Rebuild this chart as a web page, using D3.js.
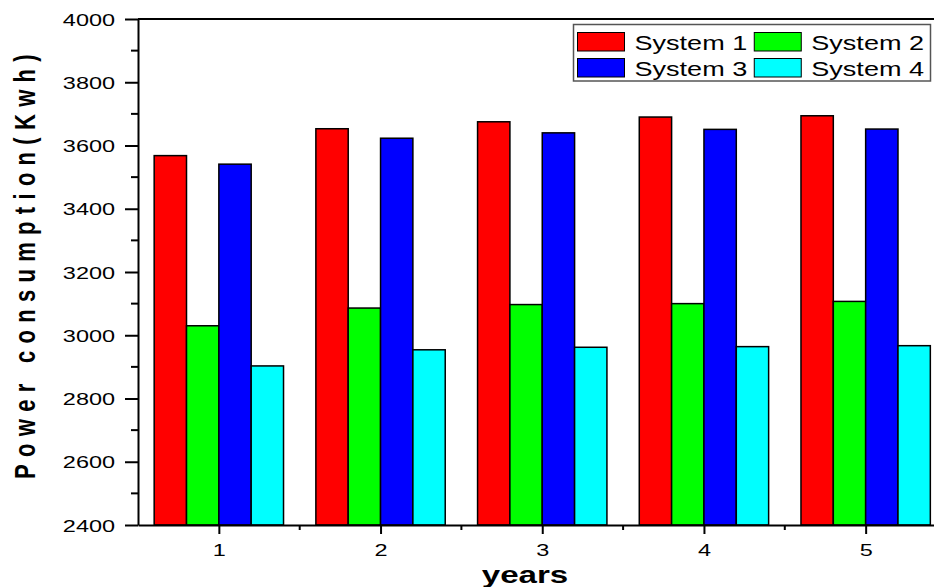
<!DOCTYPE html>
<html>
<head>
<meta charset="utf-8">
<script src="https://cdn.jsdelivr.net/npm/d3@7"></script>
<style>
  html, body { margin: 0; padding: 0; background: #fff; }
  svg { display: block; }
  text { font-family: "Liberation Sans", Arial, sans-serif; fill: #000; }
</style>
</head>
<body>
<svg id="chart" width="934" height="587"></svg>
<script>
// Yearly power consumption for four systems (kWh)
const years = [1, 2, 3, 4, 5];
const seriesNames = ["System 1", "System 2", "System 3", "System 4"];
const seriesColors = ["#ff0000", "#00ff00", "#0000ff", "#00ffff"];
const system1 = [3568, 3653, 3675, 3690, 3694];
const system2 = [3030, 3086, 3097, 3100, 3107];
const system3 = [3541, 3623, 3640, 3651, 3652];
const system4 = [2903, 2954, 2962, 2964, 2967];
const yTicks = [2400, 2600, 2800, 3000, 3200, 3400, 3600, 3800, 4000];
const yMinorTicks = [2500, 2700, 2900, 3100, 3300, 3500, 3700, 3900];
const xMinorTicks = [1.5, 2.5, 3.5, 4.5];

const series = [system1, system2, system3, system4];
const SX = 1.38; // horizontal stretch of the lettering

const svg = d3.select("#chart");
const plotLeft = 138, plotTop = 19, plotBottom = 525;

const x = d3.scaleLinear().domain([0.5, 5.5]).range([plotLeft, 946.5]);
const y = d3.scaleLinear().domain([2400, 4000]).range([plotBottom, plotTop]);
const barW = 0.2;

// bars
const bars = svg.append("g");
series.forEach((vals, si) => {
  bars.selectAll(null)
    .data(vals.map((v, i) => ({ year: years[i], v })))
    .enter().append("rect")
    .attr("x", d => x(d.year - 0.4 + si * barW))
    .attr("width", d => x(d.year - 0.4 + (si + 1) * barW) - x(d.year - 0.4 + si * barW))
    .attr("y", d => y(d.v))
    .attr("height", d => y(2400) - y(d.v))
    .attr("fill", seriesColors[si])
    .attr("stroke", "#000")
    .attr("stroke-width", 1.5);
});

// top frame line
svg.append("line")
  .attr("x1", plotLeft).attr("x2", 934).attr("y1", plotTop).attr("y2", plotTop)
  .attr("stroke", "#000").attr("stroke-width", 2);

// y axis
const yAxis = svg.append("g").attr("transform", `translate(${plotLeft},0)`)
  .call(d3.axisLeft(y).tickValues(yTicks).tickSize(13).tickSizeOuter(0).tickFormat(d3.format("d")));
yAxis.select(".domain").attr("stroke-width", 2);
yAxis.selectAll(".tick line").attr("stroke-width", 2);
yAxis.selectAll(".tick text")
  .attr("x", null).attr("dy", null)
  .attr("font-size", 17)
  .attr("text-anchor", "end")
  .attr("transform", `translate(-23,6) scale(${SX},1)`);
svg.append("g").selectAll("line").data(yMinorTicks).enter().append("line")
  .attr("x1", plotLeft - 7).attr("x2", plotLeft).attr("y1", d => y(d)).attr("y2", d => y(d))
  .attr("stroke", "#000").attr("stroke-width", 2);

// x axis
const xAxis = svg.append("g").attr("transform", `translate(0,${plotBottom})`)
  .call(d3.axisBottom(x).tickValues(years).tickSize(9).tickSizeOuter(0).tickFormat(d3.format("d")));
xAxis.select(".domain").attr("stroke-width", 2);
xAxis.selectAll(".tick line").attr("stroke-width", 2);
xAxis.selectAll(".tick text")
  .attr("y", null).attr("dy", null)
  .attr("font-size", 17)
  .attr("text-anchor", "middle")
  .attr("transform", `translate(0,31) scale(${SX},1)`);
svg.append("g").selectAll("line").data(xMinorTicks).enter().append("line")
  .attr("x1", d => x(d)).attr("x2", d => x(d)).attr("y1", plotBottom).attr("y2", plotBottom + 5)
  .attr("stroke", "#000").attr("stroke-width", 2);
svg.selectAll(".domain, .tick line").attr("stroke", "#000");

// axis titles
svg.append("text")
  .attr("transform", `translate(525,583) scale(${SX},1)`)
  .attr("text-anchor", "middle")
  .attr("font-size", 24).attr("font-weight", "bold")
  .text("years");

svg.append("text")
  .attr("transform", `translate(35,263) scale(${SX},1) rotate(-90)`)
  .attr("text-anchor", "middle")
  .attr("font-size", 22).attr("font-weight", "bold")
  .attr("letter-spacing", 7.3)
  .text("Power consumption(Kwh)");

// legend
const LSX = 1.32;
const legend = svg.append("g");
legend.append("rect")
  .attr("x", 573.5).attr("y", 24.5).attr("width", 357).attr("height", 56.5)
  .attr("fill", "#fff").attr("stroke", "#555").attr("stroke-width", 1.5);
const rows = [[0, 1], [2, 3]];
rows.forEach((row, ri) => {
  let cx = 577.5;
  const sy = 32.5 + ri * 26;
  row.forEach(si => {
    legend.append("rect")
      .attr("x", cx).attr("y", sy).attr("width", 47).attr("height", 18.5)
      .attr("fill", seriesColors[si]).attr("stroke", "#000").attr("stroke-width", 1);
    const t = legend.append("text")
      .attr("transform", `translate(${cx + 57},${sy + 17}) scale(${LSX},1)`)
      .attr("font-size", 20.5)
      .text(seriesNames[si]);
    cx = cx + 57 + t.node().getComputedTextLength() * LSX + 7;
  });
});
</script>
</body>
</html>
